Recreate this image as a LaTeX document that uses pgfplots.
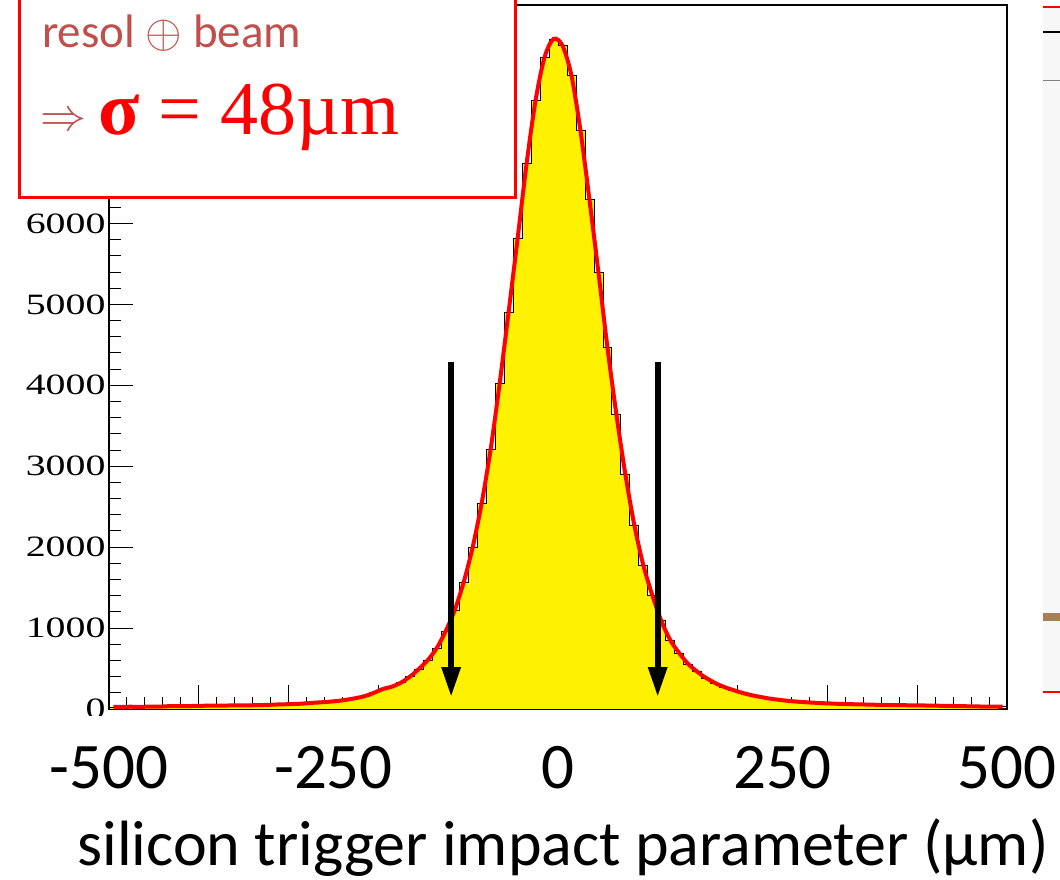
\documentclass[border=0pt]{standalone}
\usepackage{fix-cm}
\usepackage{fontspec}
\setmainfont{Liberation Serif}
\newfontfamily\calibri{Carlito}
\usepackage{graphicx}
\usepackage{pgfplots}
\usepackage{pgfplotstable}
\pgfplotsset{compat=1.18}
\usetikzlibrary{arrows.meta}
\definecolor{boxred}{HTML}{C0504D}
\definecolor{rootred}{HTML}{FF0000}

% counts per 10 um bin, left edge
\pgfplotstableread{
edge count
-500 25
-490 27
-480 28
-470 26
-460 30
-450 29
-440 34
-430 36
-420 35
-410 38
-400 40
-390 42
-380 41
-370 44
-360 46
-350 45
-340 48
-330 50
-320 55
-310 58
-300 62
-290 66
-280 75
-270 82
-260 90
-250 100
-240 115
-230 135
-220 160
-210 200
-200 247
-190 276
-180 325
-170 399
-160 494
-150 605
-140 753
-130 963
-120 1222
-110 1568
-100 2000
-90 2543
-80 3210
-70 4021
-60 4905
-50 5811
-40 6737
-30 7519
-20 8053
-10 8280
0 8198
10 7827
20 7148
30 6296
40 5399
50 4473
60 3642
70 2901
80 2272
90 1778
100 1407
110 1090
120 852
130 691
140 556
150 461
160 383
170 321
180 272
190 235
200 200
210 172
220 150
230 130
240 115
250 102
260 92
270 84
280 78
290 72
300 67
310 63
320 60
330 57
340 55
350 52
360 50
370 48
380 47
390 45
400 44
410 42
420 40
430 38
440 36
450 34
460 32
470 30
480 29
490 28
}\hist

\newcommand\sx[1]{\scalebox{1.35}[1]{#1}}

\begin{document}
\begin{tikzpicture}[x=1pt,y=1pt]
\useasboundingbox (0,0) rectangle (1060,879);
\begin{axis}[
  at={(109pt,170pt)}, anchor=south west,
  scale only axis, width=898pt, height=704pt,
  xmin=-500, xmax=500, ymin=0, ymax=8700,
  axis line style={line width=1.3pt},
  tick pos=left, tick align=inside,
  major tick length=24pt, minor tick length=12pt,
  every tick/.style={black, line width=1pt},
  xtick={-500,-400,...,500}, minor x tick num=4,
  xticklabels={},
  ytick={0,1000,...,8000}, minor y tick num=4,
  yticklabels={\sx{0},\sx{1000},\sx{2000},\sx{3000},\sx{4000},\sx{5000},\sx{6000},{},{}},
  yticklabel style={font=\fontsize{29.5}{32}\selectfont},
  extra x ticks={-500,-250,0,250,500},
  extra x tick labels={-500,-250,0,250,500},
  extra x tick style={major tick length=0pt,
    tick label style={font=\calibri\fontsize{65}{70}\selectfont, anchor=base, yshift=-79pt}},
]
\addplot[const plot mark left, fill=yellow, draw=black, line width=0.8pt]
  table[x=edge, y=count] {\hist} \closedcycle;
\addplot[const plot mark left, draw=black, line width=0.8pt] coordinates {(490,28) (500,28)};
\addplot[smooth, rootred, line width=4pt]
  table[x expr=\thisrow{edge}+5, y=count] {\hist};
\draw[line width=6pt, -{Triangle[length=30pt,width=18pt]}] (axis cs:-119,4284) -- (axis cs:-119,148);
\draw[line width=6pt, -{Triangle[length=30pt,width=18pt]}] (axis cs:111,4284) -- (axis cs:111,148);
\end{axis}

\fill[white] (0,139) rectangle (1043,163);

\draw[rootred, line width=3pt, fill=white] (19,681) rectangle (515,905);
\node[anchor=base west, inner sep=0, text=boxred, font=\calibri\fontsize{47}{50}\selectfont]
  at (42,831) {resol $\oplus$ beam};
\node[inner sep=0, text=boxred, font=\fontsize{46}{50}\selectfont] at (63.5,757) {$\Rightarrow$};
\node[anchor=base west, inner sep=0, text=rootred, font=\fontsize{76}{80}\selectfont]
  at (98,744) {\textbf{σ} = 48µm};

\node[anchor=base, inner sep=0, font=\calibri\fontsize{64}{68}\selectfont] at (563,14)
  {silicon trigger impact parameter (µm)};

% edge of the neighbouring plot
\fill[gray!6] (1043,187) rectangle (1060,872);
\draw[rootred, line width=2pt] (1043,872) -- (1060,872);
\draw[black, line width=1.5pt] (1043,847) -- (1060,847);
\draw[gray, line width=0.8pt] (1043,799) -- (1060,799);
\fill[brown!60!gray] (1043,258) rectangle (1060,266);
\draw[rootred, line width=2.5pt] (1043,187) -- (1060,187);
\end{tikzpicture}
\end{document}
